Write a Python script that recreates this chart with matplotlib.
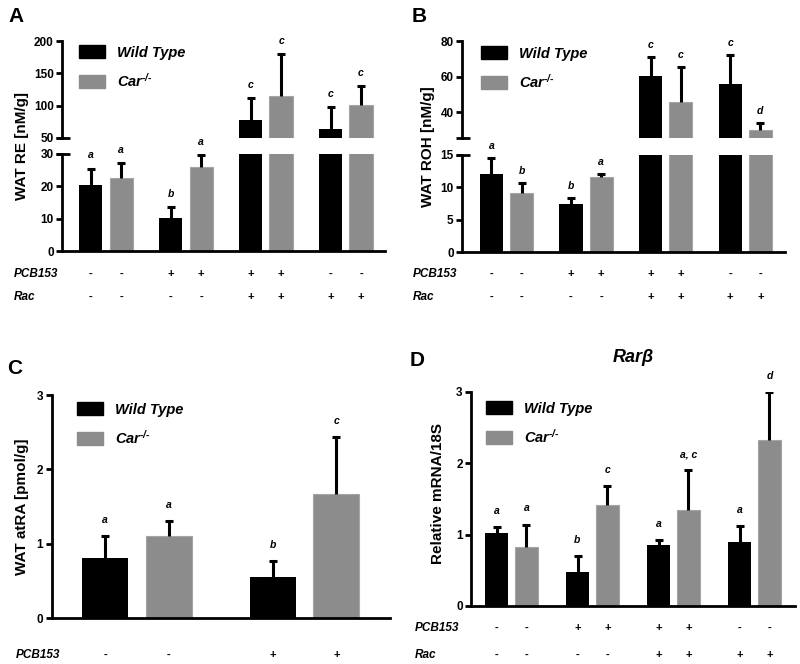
import numpy as np
import matplotlib
matplotlib.use("Agg")
import matplotlib.pyplot as plt
import matplotlib.transforms as mtransforms

plt.rcParams['font.family'] = ['Liberation Sans', 'DejaVu Sans']
plt.rcParams['font.weight'] = 'bold'
plt.rcParams['mathtext.fontset'] = 'custom'
plt.rcParams['mathtext.it'] = 'Liberation Sans:italic:bold'
plt.rcParams['mathtext.rm'] = 'Liberation Sans:italic:bold'

# ---- data ----
pcb153_8 = ["-", "-", "+", "+", "+", "+", "-", "-"]
rac_8 = ["-", "-", "-", "-", "+", "+", "+", "+"]
pcb153_4 = ["-", "-", "+", "+"]

re_wt = [20.3, 10.1, 77.4, 63.4]
re_wt_err = [5.2, 3.5, 34.4, 34.0]
re_car = [22.5, 25.9, 115.4, 101.0]
re_car_err = [4.6, 3.7, 64.4, 29.4]
re_letters_wt = ["a", "b", "c", "c"]
re_letters_car = ["a", "a", "c", "c"]

roh_wt = [12.0, 7.4, 60.2, 55.8]
roh_wt_err = [2.5, 1.0, 10.9, 16.6]
roh_car = [9.1, 11.6, 45.8, 29.9]
roh_car_err = [1.5, 0.4, 19.8, 4.0]
roh_letters_wt = ["a", "b", "c", "c"]
roh_letters_car = ["b", "a", "c", "d"]

atra_wt = [0.81, 0.56]
atra_wt_err = [0.29, 0.21]
atra_car = [1.10, 1.67]
atra_car_err = [0.21, 0.77]
atra_letters_wt = ["a", "b"]
atra_letters_car = ["a", "c"]

rarb_wt = [1.02, 0.47, 0.86, 0.89]
rarb_wt_err = [0.09, 0.23, 0.06, 0.23]
rarb_car = [0.82, 1.42, 1.34, 2.33]
rarb_car_err = [0.32, 0.26, 0.56, 0.66]
rarb_letters_wt = ["a", "b", "a", "a"]
rarb_letters_car = ["a", "c", "a, c", "d"]

WT_COLOR = "#000000"
CAR_COLOR = "#8c8c8c"

W, H = 800, 664
fig = plt.figure(figsize=(8, 6.64), dpi=100)


def fy(px):
    return 1 - px / H


def make_ax(left, right, bottom, top):
    ax = fig.add_axes([left / W, fy(bottom), (right - left) / W, (bottom - top) / H])
    for s in ["top", "right"]:
        ax.spines[s].set_visible(False)
    for s in ["left", "bottom"]:
        ax.spines[s].set_linewidth(2)
    ax.tick_params(axis="y", direction="out", length=4, width=2, labelsize=8.5, pad=2)
    ax.tick_params(axis="x", bottom=False, labelbottom=False)
    return ax


def draw(ax, wt, wt_err, car, car_err, width, off):
    x = np.arange(len(wt))
    ax.bar(x - off, wt, width, color=WT_COLOR, zorder=2)
    ax.bar(x + off, car, width, color=CAR_COLOR, edgecolor="#a5a5a5", linewidth=0.8, zorder=2)
    for xs, m, e in [(x - off, wt, wt_err), (x + off, car, car_err)]:
        eb = ax.errorbar(xs, m, yerr=[np.zeros(len(m)), e], fmt="none", ecolor="k",
                         elinewidth=2.2, capsize=3, capthick=2.2, zorder=3)
        # one-sided bars: hide the lower cap
        eb[1][0].set_visible(False)


def letters(axes, wt, wt_err, car, car_err, lw, lc, off, dy):
    x = np.arange(len(wt))
    for xs, m, e, labs in [(x - off, wt, wt_err, lw), (x + off, car, car_err, lc)]:
        for xi, mi, ei, lab in zip(xs, m, e, labs):
            top = mi + ei
            ax = axes[0]
            for a in axes:
                lo, hi = a.get_ylim()
                if lo <= top <= hi:
                    ax = a
            ax.annotate(lab, (xi, top), xytext=(0, dy), textcoords="offset points",
                        ha="center", va="bottom", fontsize=7.5, style="italic",
                        fontweight="bold", annotation_clip=False)


def legend(ax, x_px, y_px, fs=10.5):
    h1 = plt.Rectangle((0, 0), 1, 1, color=WT_COLOR)
    h2 = plt.Rectangle((0, 0), 1, 1, color=CAR_COLOR)
    ax.legend([h1, h2], ["Wild Type", r"Car$^{\text{-/-}}$"], loc="upper left",
              bbox_to_anchor=(x_px / W, fy(y_px)), bbox_transform=fig.transFigure,
              frameon=False, borderpad=0, borderaxespad=0, handlelength=1.8,
              handleheight=1.0, labelspacing=0.85, handletextpad=0.8,
              prop={"size": fs, "weight": "bold", "style": "italic"})


def rows(ax, label_x, rows_def, off):
    tr = mtransforms.blended_transform_factory(ax.transData, fig.transFigure)
    for name, signs, y_px in rows_def:
        fig.text(label_x / W, fy(y_px), name, ha="left", va="center", fontsize=8.5,
                 style="italic", fontweight="bold")
        n = len(signs) // 2
        xs = np.ravel(np.column_stack([np.arange(n) - off, np.arange(n) + off]))
        for xi, s in zip(xs, signs):
            ax.text(xi, fy(y_px), s, transform=tr, ha="center", va="center",
                    fontsize=8, fontweight="bold")


def break_marks(ax_top, ax_bot):
    for a, yy in [(ax_top, 0), (ax_bot, 1)]:
        a.plot([-0.018, 0.025], [yy, yy], transform=a.transAxes, color="k",
               lw=2, clip_on=False, solid_capstyle="butt")


# ---------------- Panel A ----------------
a_bot = make_ax(62, 385, 251, 154)
a_top = make_ax(62, 385, 138, 41)
a_top.spines["bottom"].set_visible(False)
for a in (a_bot, a_top):
    a.set_xlim(-0.55, 3.49)
    draw(a, re_wt, re_wt_err, re_car, re_car_err, 0.29, 0.19)
a_bot.set_ylim(0, 30)
a_bot.set_yticks([0, 10, 20, 30])
a_top.set_ylim(50, 200)
a_top.set_yticks([50, 100, 150, 200])
break_marks(a_top, a_bot)
letters([a_bot, a_top], re_wt, re_wt_err, re_car, re_car_err,
        re_letters_wt, re_letters_car, 0.19, 6)
legend(a_top, 79, 45)
fig.text(22 / W, fy(146), "WAT RE [nM/g]", rotation=90, ha="center", va="center",
         fontsize=11, fontweight="bold")
rows(a_bot, 14, [("PCB153", pcb153_8, 274), ("Rac", rac_8, 297)], 0.19)
fig.text(8 / W, fy(16), "A", ha="left", va="center", fontsize=15, fontweight="bold")

# ---------------- Panel B ----------------
b_bot = make_ax(462, 785, 252, 154.7)
b_top = make_ax(462, 785, 138, 41)
b_top.spines["bottom"].set_visible(False)
for a in (b_bot, b_top):
    a.set_xlim(-0.56, 3.5)
    draw(a, roh_wt, roh_wt_err, roh_car, roh_car_err, 0.29, 0.19)
b_bot.set_ylim(0, 15)
b_bot.set_yticks([0, 5, 10, 15])
b_top.set_ylim(25.5, 80)
b_top.set_yticks([40, 60, 80])
break_marks(b_top, b_bot)
letters([b_bot, b_top], roh_wt, roh_wt_err, roh_car, roh_car_err,
        roh_letters_wt, roh_letters_car, 0.19, 5)
legend(b_top, 481, 46)
fig.text(428 / W, fy(147), "WAT ROH [nM/g]", rotation=90, ha="center", va="center",
         fontsize=11, fontweight="bold")
rows(b_bot, 413, [("PCB153", pcb153_8, 274), ("Rac", rac_8, 297)], 0.19)
fig.text(412 / W, fy(17), "B", ha="left", va="center", fontsize=15, fontweight="bold")

# ---------------- Panel C ----------------
c = make_ax(51.7, 390, 618.3, 395)
c.set_xlim(-0.51, 1.51)
c.set_ylim(0, 3)
c.set_yticks([0, 1, 2, 3])
draw(c, atra_wt, atra_wt_err, atra_car, atra_car_err, 0.275, 0.19)
letters([c], atra_wt, atra_wt_err, atra_car, atra_car_err,
        atra_letters_wt, atra_letters_car, 0.19, 8)
legend(c, 77, 402)
fig.text(22.5 / W, fy(506.5), "WAT atRA [pmol/g]", rotation=90, ha="center",
         va="center", fontsize=11, fontweight="bold")
rows(c, 16, [("PCB153", pcb153_4, 655)], 0.19)
fig.text(7 / W, fy(369), "C", ha="left", va="center", fontsize=15, fontweight="bold")

# ---------------- Panel D ----------------
d = make_ax(471, 795, 606, 391.7)
d.set_xlim(-0.5, 3.5)
d.set_ylim(0, 3)
d.set_yticks([0, 1, 2, 3])
draw(d, rarb_wt, rarb_wt_err, rarb_car, rarb_car_err, 0.284, 0.185)
letters([d], rarb_wt, rarb_wt_err, rarb_car, rarb_car_err,
        rarb_letters_wt, rarb_letters_car, 0.185, 8)
legend(d, 486, 401)
fig.text(438 / W, fy(493), "Relative mRNA/18S", rotation=90, ha="center",
         va="center", fontsize=11, fontweight="bold")
rows(d, 415, [("PCB153", pcb153_8, 628), ("Rac", rac_8, 655)], 0.185)
fig.text(410 / W, fy(360), "D", ha="left", va="center", fontsize=15, fontweight="bold")
fig.text(633 / W, fy(357), "Rarβ", ha="center", va="center", fontsize=13,
         style="italic", fontweight="bold")

fig.savefig("out.png", dpi=100)
